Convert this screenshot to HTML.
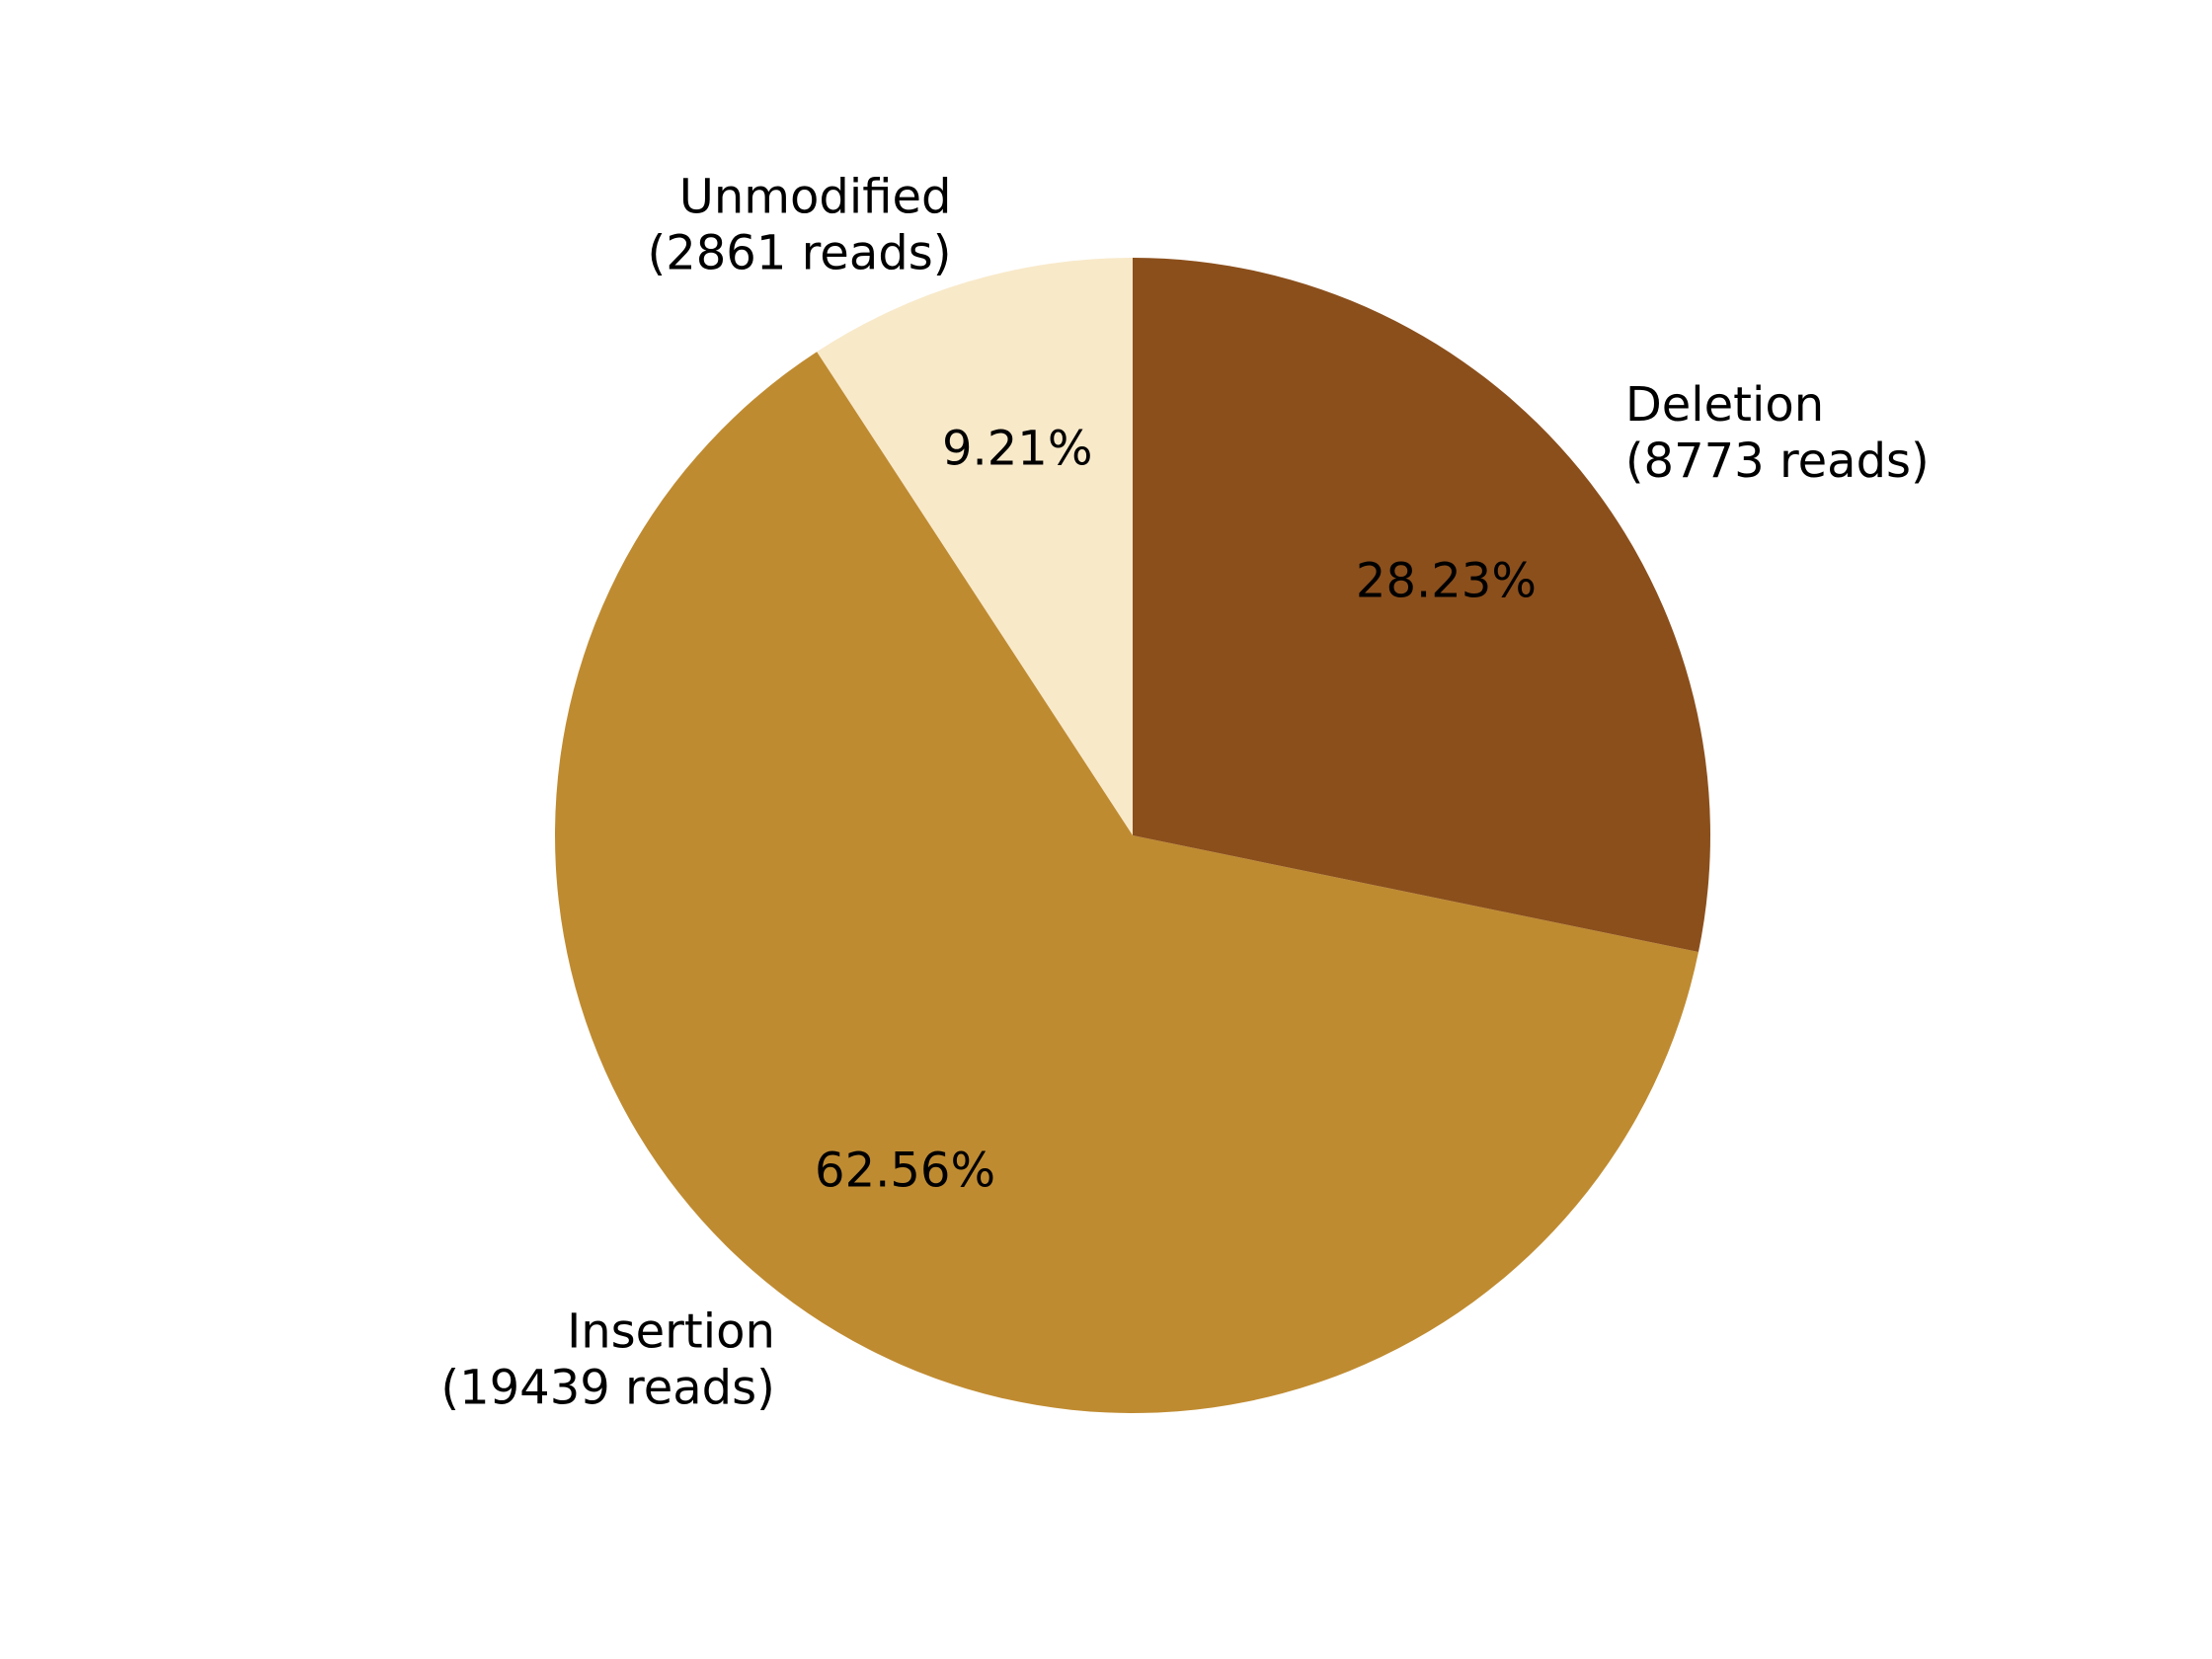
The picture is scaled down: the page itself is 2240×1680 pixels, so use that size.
<!DOCTYPE html>
<html><head><meta charset="utf-8">
<style>
html,body{margin:0;padding:0;background:#fff;}
svg{display:block;}
text{font-family:"DejaVu Sans","Liberation Sans",sans-serif;font-size:48px;fill:#000;}
</style></head>
<body>
<svg id="chart" width="2240" height="1680" viewBox="0 0 2240 1680" xmlns="http://www.w3.org/2000/svg">
<rect width="2240" height="1680" fill="#fff"/>
<g id="slices"></g>
<g id="labels"></g>
</svg>
<script>
const categories = ["Unmodified", "Insertion", "Deletion"];
const reads = [2861, 19439, 8773];
const colors = ["#F8E9C9", "#BF8B31", "#8B4F1C"];

const NS = "http://www.w3.org/2000/svg";
const cx = 1147, cy = 846, R = 585;
const total = reads.reduce((a, b) => a + b, 0);
const slicesG = document.getElementById("slices");
const labelsG = document.getElementById("labels");
function pt(angDeg, r) {
  const a = angDeg * Math.PI / 180;
  return [cx + r * Math.cos(a), cy - r * Math.sin(a)];
}
let start = 90;
categories.forEach((cat, i) => {
  const frac = reads[i] / total;
  const sweep = frac * 360;
  const end = start + sweep;
  const [x1, y1] = pt(start, R);
  const [x2, y2] = pt(end, R);
  const large = sweep > 180 ? 1 : 0;
  const path = document.createElementNS(NS, "path");
  path.setAttribute("d", `M${cx},${cy} L${x1},${y1} A${R},${R} 0 ${large} 0 ${x2},${y2} Z`);
  path.setAttribute("fill", colors[i]);
  
  
  slicesG.appendChild(path);

  const mid = start + sweep / 2;
  const [lx, ly] = pt(mid, R * 1.1);
  const left = lx < cx;
  const lab = document.createElementNS(NS, "text");
  lab.setAttribute("text-anchor", left ? "end" : "start");
  
  
  const lines = [cat, "(" + reads[i] + " reads)"];
  const lh = 57;
  lines.forEach((t, k) => {
    const ts = document.createElementNS(NS, "tspan");
    ts.setAttribute("x", lx);
    ts.setAttribute("y", ly + (k - 0.5) * lh + 15);
    ts.textContent = t;
    lab.appendChild(ts);
  });
  labelsG.appendChild(lab);

  const [px, py] = pt(mid, R * 0.7);
  const pct = document.createElementNS(NS, "text");
  pct.setAttribute("x", px);
  pct.setAttribute("y", py + 17);
  pct.setAttribute("text-anchor", "middle");
  
  
  pct.textContent = (frac * 100).toFixed(2) + "%";
  labelsG.appendChild(pct);

  start = end;
});
</script>
</body></html>
